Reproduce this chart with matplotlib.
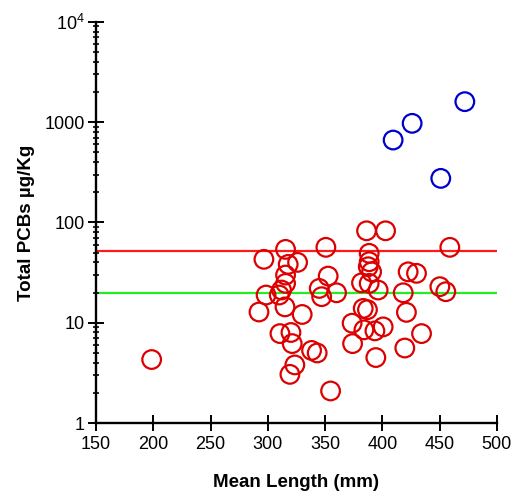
import numpy as np
import matplotlib
matplotlib.use('Agg')
import matplotlib.pyplot as plt
from matplotlib.ticker import FixedLocator, FixedFormatter, LogLocator, NullFormatter

# ------------------------------------------------------------------
#                        Data
# ------------------------------------------------------------------
red_length = [198.6, 296.6, 298.5, 292.3, 386.2, 402.8, 315.5, 350.7, 458.9,
              317.8, 326.0, 388.5, 388.5, 387.7, 390.6, 422.5, 429.8, 315.5,
              352.7, 315.5, 381.8, 388.5, 450.2, 455.4, 344.9, 347.0, 360.0,
              312.0, 310.0, 396.3, 418.2, 315.0, 330.0, 383.3, 387.0, 421.0,
              373.6, 383.9, 393.5, 400.7, 310.6, 320.2, 321.3, 434.2, 374.0,
              419.6, 338.2, 343.1, 394.3, 323.6, 319.3, 354.8]
red_pcb = [4.3, 42.9, 18.9, 12.8, 82.6, 82.6, 53.9, 56.5, 56.5,
           38.2, 40.0, 49.2, 40.6, 36.2, 32.2, 32.2, 31.1, 29.9,
           29.2, 24.7, 25.0, 24.7, 22.9, 20.4, 22.0, 18.2, 19.9,
           21.2, 18.9, 21.2, 19.9, 14.4, 12.1, 13.9, 13.5, 12.7,
           9.9, 8.5, 8.3, 9.1, 7.8, 8.0, 6.2, 7.8, 6.2,
           5.6, 5.3, 5.0, 4.5, 3.8, 3.06, 2.09]

blue_length = [472.0, 426.0, 409.4, 451.0]
blue_pcb = [1600.0, 973.0, 663.0, 275.0]

red_level = 52
green_level = 20

x_ticks = [150, 200, 250, 300, 350, 400, 450, 500]
y_ticks = [1, 10, 100, 1000, 10000]
y_tick_labels = ['1', '10', '100', '1000', r'$\mathregular{10^4}$']

# ------------------------------------------------------------------
#                        Figure
# ------------------------------------------------------------------
plt.rcParams['font.family'] = ['Liberation Sans', 'DejaVu Sans']
plt.rcParams['mathtext.fontset'] = 'custom'
plt.rcParams['mathtext.rm'] = 'Liberation Sans'

fig = plt.figure(figsize=(5.16, 4.96), dpi=100)
ax = fig.add_axes([0.186, 0.147, 0.777, 0.809])

ax.axhline(red_level, color='#ff1a1a', linewidth=1.6, zorder=1)
ax.axhline(green_level, color='#22ee22', linewidth=1.6, zorder=1)

ax.scatter(red_length, red_pcb, s=180, facecolors='none', edgecolors='#dd0000',
           linewidths=1.6, zorder=3)
ax.scatter(blue_length, blue_pcb, s=180, facecolors='none', edgecolors='#0000cc',
           linewidths=1.6, zorder=3)

ax.set_yscale('log')
ax.set_xlim(150, 500)
ax.set_ylim(1, 10000)

ax.xaxis.set_major_locator(FixedLocator(x_ticks))
ax.yaxis.set_major_locator(FixedLocator(y_ticks))
ax.yaxis.set_major_formatter(FixedFormatter(y_tick_labels))
ax.yaxis.set_minor_locator(LogLocator(base=10, subs=np.arange(2, 10)))
ax.yaxis.set_minor_formatter(NullFormatter())

for side in ['top', 'right']:
    ax.spines[side].set_visible(False)
for side in ['left', 'bottom']:
    ax.spines[side].set_linewidth(1.7)

ax.tick_params(axis='both', which='major', direction='inout', length=12,
               width=1.4, labelsize=13, pad=2)
ax.tick_params(axis='y', which='minor', direction='inout', length=4, width=1.2)
ax.tick_params(axis='x', which='major', pad=3)

ax.set_xlabel('Mean Length (mm)', fontsize=13.5, fontweight='bold', labelpad=15.5)
ax.set_ylabel('Total PCBs µg/Kg', fontsize=13.5, fontweight='bold', labelpad=6.5)

fig.savefig('out.png', dpi=100)
